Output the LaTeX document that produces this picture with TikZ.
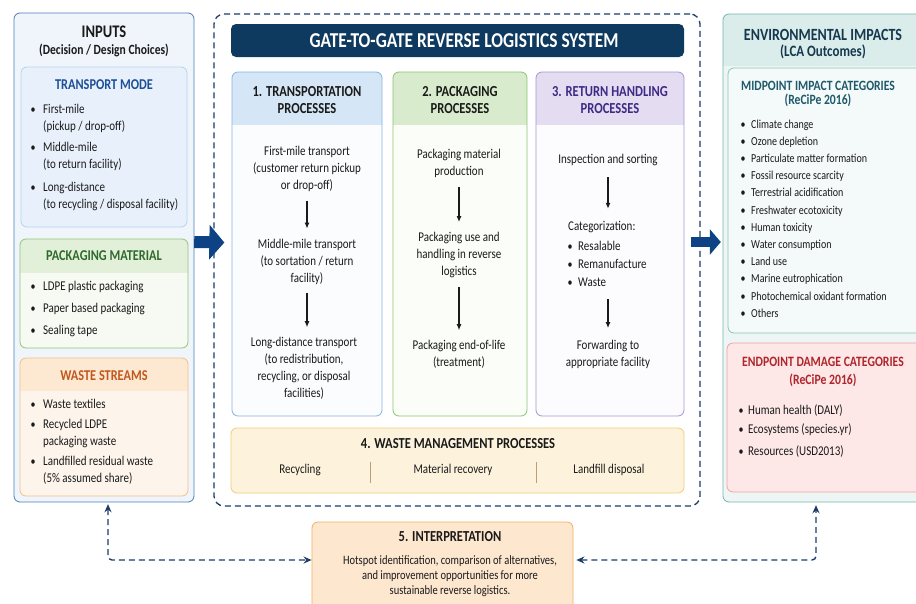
\documentclass[tikz,border=0pt]{standalone}
\usepackage{fontspec}
\setmainfont{Carlito}[FakeStretch=0.82]
\usetikzlibrary{arrows.meta,fit,calc}
\definecolor{ink}{HTML}{1A1A1A}
\definecolor{navy}{HTML}{0F3A5F}
\definecolor{arrblue}{HTML}{0D4284}
\definecolor{dashnavy}{HTML}{1D3C6A}
\definecolor{inB}{HTML}{4A7EBB}\definecolor{inF}{HTML}{F0F5FB}
\definecolor{tmB}{HTML}{B5D2EE}\definecolor{tmF}{HTML}{E8F1FB}\definecolor{tmT}{HTML}{1C4F96}
\definecolor{pmB}{HTML}{90C47A}\definecolor{pmH}{HTML}{E2F0D9}\definecolor{pmF}{HTML}{F6FAF3}\definecolor{pmT}{HTML}{2F6A2C}
\definecolor{wsB}{HTML}{F3BF86}\definecolor{wsH}{HTML}{FDE8D2}\definecolor{wsF}{HTML}{FDF5EC}\definecolor{wsT}{HTML}{C2561D}
\definecolor{c1B}{HTML}{86B4E0}\definecolor{c1H}{HTML}{D5E6F6}\definecolor{c1F}{HTML}{FAFCFE}
\definecolor{c2B}{HTML}{8CC56E}\definecolor{c2H}{HTML}{D8EBCD}\definecolor{c2F}{HTML}{FAFDF8}
\definecolor{c3B}{HTML}{A795D2}\definecolor{c3H}{HTML}{E4DDF2}\definecolor{c3F}{HTML}{FCFBFE}\definecolor{c3T}{HTML}{3E2A85}
\definecolor{wmB}{HTML}{F2CD79}\definecolor{wmF}{HTML}{FDF3DD}\definecolor{wmS}{HTML}{B5A07A}
\definecolor{evB}{HTML}{74B6AD}\definecolor{evH}{HTML}{DAEDEA}\definecolor{evF}{HTML}{EEF6F5}\definecolor{evT}{HTML}{16384F}
\definecolor{mpB}{HTML}{8AC3BC}\definecolor{mpF}{HTML}{F4F9F9}\definecolor{mpT}{HTML}{1E5A6B}
\definecolor{epB}{HTML}{F2A0A0}\definecolor{epF}{HTML}{FDE7E7}\definecolor{epT}{HTML}{B0252B}
\definecolor{ipB}{HTML}{F5AC63}\definecolor{ipF}{HTML}{FDE7CF}

\newcommand\panelbox[9]{%
  \node[fit={(#2,#3) (#4,#5)}, inner sep=0pt, fill=#9, rounded corners=6pt] (#1) {};
  \begin{scope}
    \clip[rounded corners=6pt] (#2,#3) rectangle (#4,#5);
    \fill[#8] (#2,#3) rectangle (#4,#6);
  \end{scope}
  \draw[#7, line width=0.8pt, rounded corners=6pt] (#2,#3) rectangle (#4,#5);
}

\begin{document}
\begin{tikzpicture}[x=1pt,y=-1pt,
  txt/.style={text=ink, inner sep=0pt, align=center, font=\fontsize{13.4}{17}\selectfont},
  item/.style={text=ink, inner sep=0pt, align=left, font=\fontsize{13.4}{16.5}\selectfont},
  sitem/.style={text=ink, inner sep=0pt, font=\fontsize{12.2}{13}\selectfont, text height=8.6pt, text depth=2.4pt},
  eitem/.style={text=ink, inner sep=0pt, font=\fontsize{13.4}{14}\selectfont, text height=9.1pt, text depth=3pt},
  bul/.style={text=ink, inner sep=0pt, font=\fontsize{12.2}{13}\selectfont, text height=8.6pt, text depth=2.4pt},
  ttl/.style={inner sep=0pt, align=center, font=\bfseries\fontsize{15.3}{17}\selectfont},
  flow/.style={draw=ink, line width=1.1pt, -{Latex[length=6pt,width=5pt]}, shorten <=9pt, shorten >=10pt},
  bigarr/.style={draw=arrblue, line width=12pt, -{Triangle[length=15pt,width=34pt]}},
  bigarrR/.style={draw=arrblue, line width=10pt, -{Triangle[length=11pt,width=25pt]}},
  darr/.style={draw=dashnavy, line width=1.4pt, dash pattern=on 6pt off 4pt, rounded corners=4pt,
     {Stealth[length=8pt,width=7pt]}-{Stealth[length=8pt,width=7pt]}}
]
\useasboundingbox (0,0) rectangle (916,603);
\clip (0,0) rectangle (916,603);
\fill[white] (0,0) rectangle (916,603);

% ---------------- INPUTS ----------------
\panelbox{inputs}{14}{13}{194}{502}{13}{inB}{inF}{inF}
\node[ttl, text=ink, font=\bfseries\fontsize{17.7}{19}\selectfont] (inT) at (104,32) {INPUTS};
\node[ttl, text=ink, font=\bfseries\fontsize{14.1}{15}\selectfont] (inS) at (104,50) {(Decision / Design Choices)};

\panelbox{tm}{21}{67}{187}{227}{67}{tmB}{tmF}{tmF}
\node[ttl, text=tmT, font=\bfseries\fontsize{15}{16}\selectfont] (tmT) at (104,85) {TRANSPORT MODE};
\node[bul] (tmb1) at (33,110) {\textbullet};
\node[item, anchor=west] (tm1) at (43,118.5) {First-mile\\(pickup / drop-off)};
\node[bul] (tmb2) at (33,148) {\textbullet};
\node[item, anchor=west] (tm2) at (43,156.5) {Middle-mile\\(to return facility)};
\node[bul] (tmb3) at (33,188) {\textbullet};
\node[item, anchor=west] (tm3) at (43,196.5) {Long-distance\\(to recycling / disposal facility)};

\panelbox{pm}{20}{239}{188}{348}{273}{pmB}{pmH}{pmF}
\node[ttl, text=pmT, font=\bfseries\fontsize{15}{16}\selectfont] (pmT) at (104,256) {PACKAGING MATERIAL};
\foreach \t [count=\i] in {LDPE plastic packaging, Paper based packaging, Sealing tape} {
  \node[bul] (pmb\i) at (33,{287+22*(\i-1)}) {\textbullet};
  \node[eitem, anchor=west] (pm\i) at (43,{287+22*(\i-1)}) {\t};
}

\panelbox{ws}{20}{358}{188}{496}{391}{wsB}{wsH}{wsF}
\node[ttl, text=wsT, font=\bfseries\fontsize{15}{16}\selectfont] (wsT) at (104,376) {WASTE STREAMS};
\node[bul] (wsb1) at (33,405) {\textbullet};
\node[eitem, anchor=west] (ws1) at (43,405) {Waste textiles};
\node[bul] (wsb2) at (33,425) {\textbullet};
\node[item, anchor=west] (ws2) at (43,433.5) {Recycled LDPE\\packaging waste};
\node[bul] (wsb3) at (33,462) {\textbullet};
\node[item, anchor=west] (ws3) at (43,470.5) {Landfilled residual waste\\(5\% assumed share)};

% ---------------- SYSTEM ----------------
\node[fit={(214,14) (700,506)}, inner sep=0pt, draw=dashnavy, line width=1.3pt,
      dash pattern=on 6pt off 4pt, rounded corners=10pt] (sys) {};
\node[fit={(231,24) (684,57)}, inner sep=0pt, fill=navy, rounded corners=5pt] (bar) {};
\node[text=white, font=\bfseries\fontsize{21.2}{23}\selectfont, inner sep=0pt] (barT) at (464,40.5)
  {GATE-TO-GATE REVERSE LOGISTICS SYSTEM};

\panelbox{c1}{232}{72}{382}{416}{125}{c1B}{c1H}{c1F}
\panelbox{c2}{393}{72}{527}{416}{125}{c2B}{c2H}{c2F}
\panelbox{c3}{536}{72}{684}{416}{125}{c3B}{c3H}{c3F}
\node[ttl, text=ink] (c1T) at (307,100.5) {1. TRANSPORTATION\\PROCESSES};
\node[ttl, text=ink] (c2T) at (460,100.5) {2. PACKAGING\\PROCESSES};
\node[ttl, text=c3T] (c3T) at (610,100.5) {3. RETURN HANDLING\\PROCESSES};

\node[txt] (c1a) at (307,169) {First-mile transport\\(customer return pickup\\or drop-off)};
\node[txt] (c1b) at (307,261.5) {Middle-mile transport\\(to sortation / return\\facility)};
\node[txt] (c1c) at (304,368.5) {Long-distance transport\\(to redistribution,\\recycling, or disposal\\facilities)};
\draw[flow] (c1a) -- (c1b);
\draw[flow] (c1b) -- (c1a.south |- c1c.north);

\node[txt] (c2a) at (459,163.5) {Packaging material\\production};
\node[txt] (c2b) at (459,255) {Packaging use and\\handling in reverse\\logistics};
\node[txt] (c2c) at (459,354.5) {Packaging end-of-life\\(treatment)};
\draw[flow] (c2a) -- (c2b);
\draw[flow] (c2b) -- (c2c);

\node[txt] (c3a) at (608,160) {Inspection and sorting};
\node[eitem, anchor=west] (c3cat) at (568,227) {Categorization:};
\foreach \t [count=\i] in {Resalable, Remanufacture, Waste} {
  \node[bul] (c3b\i) at (570,{247+18*(\i-1)}) {\textbullet};
  \node[eitem, anchor=west] (c3i\i) at (578,{247+18*(\i-1)}) {\t};
}
\node[txt] (c3c) at (608,354.5) {Forwarding to\\appropriate facility};
\draw[flow, shorten <=11pt, shorten >=12pt] (c3a) -- (c3a |- c3cat.north);
\draw[flow, shorten <=10pt, shorten >=12pt] (c3a |- c3i3.south) -- (c3c);

\node[fit={(231,428) (684,493)}, inner sep=0pt, draw=wmB, fill=wmF, line width=0.8pt, rounded corners=6pt] (wm) {};
\node[ttl, text=ink] (wmT) at (458,444) {4. WASTE MANAGEMENT PROCESSES};
\node[eitem] (wm1) at (300,470) {Recycling};
\node[eitem] (wm2) at (453,470) {Material recovery};
\node[eitem] (wm3) at (609,470) {Landfill disposal};
\draw[wmS, line width=1pt] (370,462) -- (370,483);
\draw[wmS, line width=1pt] (536,462) -- (536,483);

% ---------------- ENVIRONMENTAL IMPACTS ----------------
\panelbox{env}{723}{14}{930}{502}{66}{evB}{evH}{evF}
\node[ttl, text=evT, font=\bfseries\fontsize{17.1}{19}\selectfont] (evT) at (823,35) {ENVIRONMENTAL IMPACTS};
\node[ttl, text=evT, font=\bfseries\fontsize{15.8}{17}\selectfont] (evS) at (823,52) {(LCA Outcomes)};

\panelbox{mp}{728}{68}{926}{333}{68}{mpB}{mpF}{mpF}
\node[ttl, text=mpT, font=\bfseries\fontsize{14.2}{14.5}\selectfont] (mpT) at (818,94) {MIDPOINT IMPACT CATEGORIES\\(ReCiPe 2016)};
\foreach \t [count=\i] in {Climate change, Ozone depletion, Particulate matter formation,
  Fossil resource scarcity, Terrestrial acidification, Freshwater ecotoxicity, Human toxicity,
  Water consumption, Land use, Marine eutrophication, Photochemical oxidant formation, Others} {
  \node[bul] (mpb\i) at (743,{125+17.2*(\i-1)}) {\textbullet};
  \node[sitem, anchor=west] (mp\i) at (751,{125+17.2*(\i-1)}) {\t};
}

\panelbox{ep}{727}{343}{926}{492}{343}{epB}{epF}{epF}
\node[ttl, text=epT, font=\bfseries\fontsize{14.3}{18}\selectfont] (epT) at (823,372) {ENDPOINT DAMAGE CATEGORIES\\(ReCiPe 2016)};
\foreach \t/\yy [count=\i] in {Human health (DALY)/411, Ecosystems (species.yr)/430, Resources (USD2013)/452} {
  \node[bul] (epb\i) at (741,\yy) {\textbullet};
  \node[eitem, anchor=west] (ep\i) at (748,\yy) {\t};
}

% ---------------- INTERPRETATION ----------------
\node[fit={(312,522) (573,615)}, inner sep=0pt, draw=ipB, fill=ipF, line width=0.8pt, rounded corners=6pt] (ip) {};
\node[ttl, text=ink] (ipT) at (450,537) {5. INTERPRETATION};
\node[txt, font=\fontsize{12.8}{15}\selectfont] (ipB) at (450,576)
  {Hotspot identification, comparison of alternatives,\\and improvement opportunities for more\\sustainable reverse logistics.};

% ---------------- CONNECTORS ----------------
\draw[bigarr] ([yshift=15.5pt]inputs.east) -- ([yshift=17.5pt,xshift=11pt]sys.west);
\draw[bigarrR] ([yshift=18pt,xshift=-10pt]sys.east) -- ([yshift=16pt,xshift=-2pt]env.west);
\draw[darr] ([xshift=4pt,yshift=-2pt]inputs.south) |- ([yshift=8.5pt]ip.west);
\draw[darr] ([yshift=8.5pt,xshift=3pt]ip.east) -| ([xshift=-10.5pt,yshift=-3pt]env.south);
\end{tikzpicture}
\end{document}
